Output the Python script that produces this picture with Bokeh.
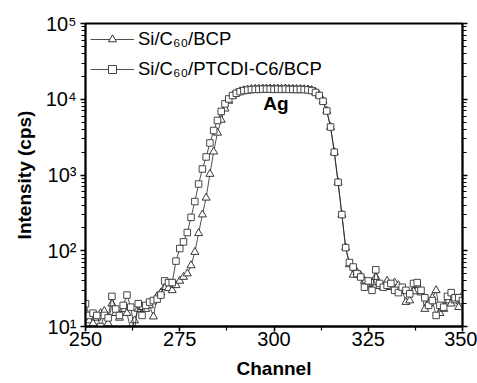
from bokeh.plotting import figure
from bokeh.models import (Range1d, LogAxis, LogTicker, SingleIntervalTicker, CustomJSTickFormatter,
                          Legend, LegendItem, Label, ColumnDataSource)
from bokeh.embed import file_html
from bokeh.resources import INLINE

channels = list(range(250, 351))

# Si/C60/BCP (triangles)
tri_counts = [
    14, 12, 11, 13, 15, 16, 11, 20, 15, 13,
    17, 15, 9, 12, 17, 18, 17, 19, 13.5, 25,
    28, 33, 32, 30, 35, 40, 45, 50, 64, 96,
    170, 300, 500, 1030, 2030, 3600, 5330, 7500, 9500, 11000,
    12000, 12700, 13100, 13400, 13600, 13700, 13700, 13800, 13800, 13800,
    13800, 13800, 13700, 13800, 13700, 13700, 13600, 13600, 13500, 13400,
    13100, 12400, 11300, 9500, 7000, 4300, 2000, 800, 300, 110,
    66, 48, 52, 47, 40, 36, 38, 45, 34, 33,
    40, 33, 38, 35, 30, 21, 22, 29, 35, 28,
    17, 20, 24, 30, 15, 17, 22, 20, 22, 18,
    26,
]

# Si/C60/PTCDI-C6/BCP (squares)
sq_counts = [
    20, 14, 15, 14, 10, 14, 13, 25, 17, 14,
    19, 26, 18, 9, 20, 14, 19, 21, 22, 23,
    26, 40, 38, 38, 73, 107, 131, 174, 276, 446,
    760, 1200, 1730, 2650, 3870, 5250, 6900, 8700, 10100, 11200,
    12000, 12600, 13000, 13200, 13400, 13500, 13500, 13600, 13600, 13600,
    13500, 13600, 13500, 13600, 13500, 13500, 13400, 13500, 13400, 13300,
    13000, 12300, 11200, 9400, 7000, 4300, 2000, 800, 300, 110,
    70, 61, 50, 45, 33, 40, 30, 56, 37, 33,
    35, 37, 30, 28, 33, 30, 27, 37, 38, 30,
    24, 19, 22, 14, 19, 18, 25, 28, 24, 24,
    22,
]

series_labels = ["Si/C\u2086\u2080/BCP", "Si/C\u2086\u2080/PTCDI-C6/BCP"]
x_title = "Channel"
y_title = "Intensity (cps)"
peak_label = "Ag"

FONT = "Liberation Sans"

p = figure(width=477, height=383, output_backend="svg", toolbar_location=None,
           y_axis_type="log", x_range=Range1d(250, 350), y_range=Range1d(10, 1e5),
           min_border_left=85, min_border_right=15, min_border_top=23, min_border_bottom=57)
p.background_fill_color = "white"
p.border_fill_color = "white"
p.grid.visible = False
p.outline_line_color = "black"
p.outline_line_width = 1.8

src_t = ColumnDataSource(dict(x=channels, y=tri_counts))
src_s = ColumnDataSource(dict(x=channels, y=sq_counts))

lt = p.line("x", "y", source=src_t, line_color="#222222", line_width=0.8)
st = p.scatter("x", "y", source=src_t, marker="triangle", size=8, fill_color="white",
               line_color="#222222", line_width=0.9)
ls = p.line("x", "y", source=src_s, line_color="#222222", line_width=0.8)
ss = p.scatter("x", "y", source=src_s, marker="square", size=6.5, fill_color="white",
               line_color="#333333", line_width=0.9)

# axes
xa = p.xaxis[0]
xa.ticker = SingleIntervalTicker(interval=25, num_minor_ticks=2)
ya = p.yaxis[0]
ya.ticker = LogTicker(num_minor_ticks=10)
sup = CustomJSTickFormatter(code="""
const s = {"0":"\u2070","1":"\u00b9","2":"\u00b2","3":"\u00b3","4":"\u2074","5":"\u2075","6":"\u2076","7":"\u2077","8":"\u2078","9":"\u2079","-":"\u207b"};
const e = Math.round(Math.log10(tick));
return "10" + String(e).split("").map(c => s[c]).join("");
""")
ya.formatter = sup

for ax in (xa, ya):
    ax.axis_line_width = 1.8
    ax.major_tick_line_width = 1.5
    ax.minor_tick_line_width = 1.2
    ax.minor_tick_line_color = "black"
    ax.major_tick_out = 5
    ax.major_tick_in = 0
    ax.minor_tick_out = 4
    ax.minor_tick_in = 0
    ax.major_label_text_font = FONT
    ax.major_label_text_font_size = "20px"
    ax.major_label_text_color = "black"
    ax.axis_label_text_font = FONT
    ax.axis_label_text_font_size = "19px"
    ax.axis_label_text_font_style = "bold"
    ax.axis_label_text_color = "black"

xa.axis_label = x_title
ya.axis_label = y_title
xa.major_label_standoff = 0
xa.axis_label_standoff = 9
ya.major_label_standoff = 4
ya.axis_label_standoff = 8

ra = LogAxis(ticker=LogTicker(num_minor_ticks=10), formatter=CustomJSTickFormatter(code="return '';"))
ra.axis_line_width = 1.8
ra.major_tick_line_width = 1.5
ra.minor_tick_line_width = 1.2
ra.major_tick_out = 5
ra.major_tick_in = 0
ra.minor_tick_out = 4
ra.minor_tick_in = 0
ra.major_label_text_font_size = "1px"
p.add_layout(ra, "right")

legend = Legend(items=[LegendItem(label=series_labels[0], renderers=[lt, st]),
                       LegendItem(label=series_labels[1], renderers=[ls, ss])],
                location="top_left")
legend.border_line_alpha = 0
legend.background_fill_alpha = 0
legend.label_text_font = FONT
legend.label_text_font_size = "18.5px"
legend.label_text_color = "black"
legend.glyph_width = 44
legend.glyph_height = 20
legend.label_standoff = 4
legend.spacing = 8
legend.padding = 2
legend.margin = 3
p.add_layout(legend)

ag = Label(x=300.5, y=8700, text=peak_label, text_font=FONT, text_font_size="19px",
           text_font_style="bold", text_align="center", text_baseline="middle", text_color="black")
p.add_layout(ag)

open("out.html", "w").write(file_html(p, INLINE))
